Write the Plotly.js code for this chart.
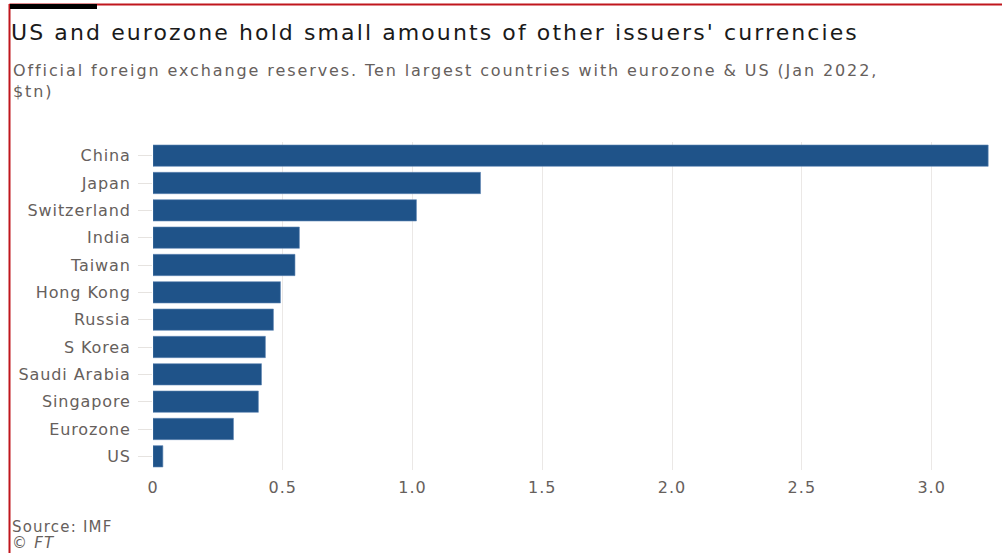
<!DOCTYPE html>
<html><head><meta charset="utf-8">
<script src="https://cdn.plot.ly/plotly-3.0.1.min.js"></script>
<style>
html,body{margin:0;padding:0;background:#fff;}
#chart{width:1002px;height:553px;}
#chart .gtitle{letter-spacing:2.1px;}
#chart .annotation.sub text{letter-spacing:1.9px;}
#chart .annotation.src text{letter-spacing:1.2px;}
#chart .ytick text{letter-spacing:0.9px;}
#chart .xtick text{letter-spacing:1px;}
</style>
</head><body><div id="chart"></div>
<script>
const countries = ["China","Japan","Switzerland","India","Taiwan","Hong Kong","Russia","S Korea","Saudi Arabia","Singapore","Eurozone","US"];
const reserves = [3.218,1.262,1.015,0.564,0.547,0.491,0.464,0.433,0.418,0.406,0.310,0.038];
const xTicks = [0,0.5,1.0,1.5,2.0,2.5,3.0];
const xTickText = ["0","0.5","1.0","1.5","2.0","2.5","3.0"];

const W = 1002, H = 553;
const FONT = "DejaVu Sans, Verdana, sans-serif";
const PW = W - 153 - 12, PH = H - 142 - 83;
const trace = {
  type: "bar", orientation: "h",
  x: reserves, y: countries,
  marker: {color: "#1f5389", line: {color: "#5f86b3", width: 0.6}},
  hoverinfo: "x+y"
};
const layout = {
  width: W, height: H,
  paper_bgcolor: "#fff", plot_bgcolor: "#fff",
  margin: {l: 153, r: 12, t: 142, b: 83},
  bargap: 0.22,
  showlegend: false,
  font: {family: FONT, color: "#66605c"},
  title: {
    text: "US and eurozone hold small amounts of other issuers' currencies",
    x: 11/W, xref: "container", xanchor: "left",
    y: 1 - 32/H, yref: "container", yanchor: "middle",
    font: {family: FONT, size: 22, color: "#1a1a1a"}
  },
  xaxis: {
    range: [0, 3.225],
    tickvals: xTicks, ticktext: xTickText,
    showgrid: true, gridcolor: "#ebe8e6", gridwidth: 1,
    zeroline: false, showline: false,
    ticks: "", ticklabelstandoff: 6,
    tickfont: {family: FONT, size: 16, color: "#66605c"},
    fixedrange: true
  },
  yaxis: {
    type: "category",
    categoryorder: "array", categoryarray: countries,
    autorange: "reversed",
    showgrid: false, zeroline: false, showline: false,
    ticks: "outside", ticklen: 14, tickcolor: "#e6e3e0", tickwidth: 1,
    ticklabelstandoff: 4,
    tickfont: {family: FONT, size: 16, color: "#66605c"},
    fixedrange: true
  },
  annotations: [
    {text: "Official foreign exchange reserves. Ten largest countries with eurozone & US (Jan 2022,<br>$tn)",
     xref: "paper", yref: "paper", x: (11-153)/PW, y: 1 + (142-59)/PH,
     xanchor: "left", yanchor: "top", align: "left", showarrow: false,
     font: {family: FONT, size: 16, color: "#66605c"}},
    {text: "Source: IMF", xref: "paper", yref: "paper",
     x: (10-153)/PW, y: -(527-470)/PH, xanchor: "left", yanchor: "middle",
     showarrow: false, align: "left", font: {family: FONT, size: 15, color: "#66605c"}},
    {text: "<i>© FT</i>", xref: "paper", yref: "paper",
     x: (10-153)/PW, y: -(543-470)/PH, xanchor: "left", yanchor: "middle",
     showarrow: false, align: "left", font: {family: FONT, size: 15, color: "#66605c"}}
  ],
  shapes: [
    {type: "line", xref: "paper", yref: "paper",
     x0: (9.5-153)/PW, x1: (W-153)/PW,
     y0: 1 + (142-4.5)/PH, y1: 1 + (142-4.5)/PH,
     line: {color: "#c0161d", width: 2}},
    {type: "line", xref: "paper", yref: "paper",
     x0: (9.5-153)/PW, x1: (9.5-153)/PW,
     y0: 1 + (142-4)/PH, y1: -(H-470)/PH,
     line: {color: "#c0161d", width: 2}},
    {type: "rect", xref: "paper", yref: "paper",
     x0: (10-153)/PW, x1: (97-153)/PW,
     y0: 1 + (142-4)/PH, y1: 1 + (142-9)/PH,
     fillcolor: "#000", line: {width: 0}}
  ]
};
Plotly.newPlot("chart", [trace], layout, {displayModeBar: false, staticPlot: true}).then(function(gd){
  const anns = gd.querySelectorAll(".annotation");
  if (anns[0]) anns[0].classList.add("sub");
  if (anns[1]) anns[1].classList.add("src");
  if (anns[2]) anns[2].classList.add("src");
});
</script></body></html>
